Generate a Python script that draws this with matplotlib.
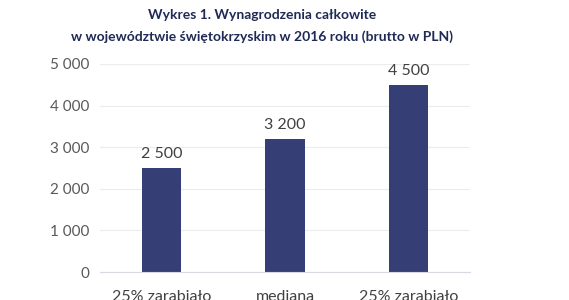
import matplotlib
matplotlib.use("Agg")
import matplotlib.pyplot as plt

# Wynagrodzenia całkowite, świętokrzyskie 2016 (brutto w PLN)
categories = ["25% zarabiało\nponiżej", "mediana", "25% zarabiało\npowyżej"]
values = [2500, 3200, 4500]
yticks = [0, 1000, 2000, 3000, 4000, 5000]

plt.rcParams['font.family'] = ['Lato', 'DejaVu Sans']

fig = plt.figure(figsize=(5.69, 3.0), dpi=100)
ax = fig.add_axes([100 / 569, 28 / 300, 370 / 569, 208 / 300])

bars = ax.bar(range(len(values)), values, width=0.32, color="#363f75", zorder=3)
for b, v in zip(bars, values):
    ax.text(b.get_x() + b.get_width() / 2, v + 170, f"{v:,}".replace(",", " "),
            ha="center", va="bottom", fontsize=11.5, color="#404040")

ax.set_xlim(-0.5, 2.5)
ax.set_ylim(0, 5000)
ax.set_yticks(yticks)
ax.set_yticklabels([f"{t:,}".replace(",", " ") for t in yticks],
                   fontsize=11, color="#595959")
ax.set_xticks(range(len(categories)))
ax.set_xticklabels(categories, fontsize=11.5, color="#404040", va="top",
                   linespacing=1.3)
ax.tick_params(axis="both", length=0)
ax.tick_params(axis="y", pad=8)
ax.tick_params(axis="x", pad=13)
ax.grid(axis="y", color="#ececec", linewidth=0.8, zorder=0)
for s in ["top", "right", "left"]:
    ax.spines[s].set_visible(False)
ax.spines["bottom"].set_color("#d9d9e6")
ax.spines["bottom"].set_zorder(4)

fig.text(262 / 569, 1 - 15 / 300, "Wykres 1. Wynagrodzenia całkowite",
         ha="center", va="center", fontsize=10, fontweight="bold", color="#1f2a55")
fig.text(262 / 569, 1 - 37 / 300,
         "w województwie świętokrzyskim w 2016 roku (brutto w PLN)",
         ha="center", va="center", fontsize=10, fontweight="bold", color="#1f2a55")

fig.savefig("out.png", dpi=100)
